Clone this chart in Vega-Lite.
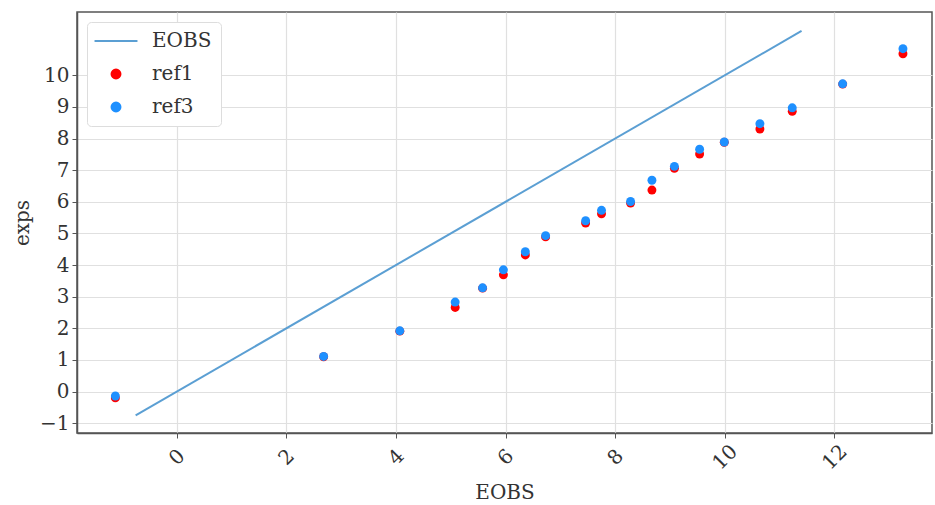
{
  "$schema": "https://vega.github.io/schema/vega-lite/v6.json",
  "width": 855,
  "height": 421,
  "autosize": "none",
  "padding": {"left": 77, "top": 12, "right": 3, "bottom": 72},
  "background": "white",
  "config": {
    "view": {"stroke": "#555", "strokeWidth": 1.5},
    "font": "DejaVu Serif",
    "axis": {
      "labelFont": "DejaVu Serif", "titleFont": "DejaVu Serif",
      "labelFontSize": 20, "titleFontSize": 20, "labelColor": "#333", "titleColor": "#333",
      "titleFontWeight": "normal",
      "gridColor": "#e0e0e0", "gridWidth": 1.2,
      "domainColor": "#555", "domainWidth": 1.5,
      "tickColor": "#555", "tickSize": 5
    },
    "legend": {
      "title": null, "orient": "none", "legendX": 10, "legendY": 10,
      "labelFont": "DejaVu Serif", "labelFontSize": 20, "labelColor": "#333",
      "fillColor": "white", "strokeColor": "#dddddd", "cornerRadius": 4,
      "padding": 9, "rowPadding": 13, "symbolOffset": 10, "labelOffset": 26,
      "symbolSize": 80, "symbolStrokeWidth": 2
    }
  },
  "data": {
    "values": [
      {"x": -0.75, "y": -0.75, "series": "EOBS"},
      {"x": 11.4, "y": 11.4, "series": "EOBS"},
      {"x": -1.12, "y": -0.2, "series": "ref1"},
      {"x": 2.68, "y": 1.1, "series": "ref1"},
      {"x": 4.07, "y": 1.91, "series": "ref1"},
      {"x": 5.08, "y": 2.66, "series": "ref1"},
      {"x": 5.58, "y": 3.27, "series": "ref1"},
      {"x": 5.96, "y": 3.69, "series": "ref1"},
      {"x": 6.36, "y": 4.32, "series": "ref1"},
      {"x": 6.73, "y": 4.89, "series": "ref1"},
      {"x": 7.46, "y": 5.33, "series": "ref1"},
      {"x": 7.75, "y": 5.62, "series": "ref1"},
      {"x": 8.28, "y": 5.96, "series": "ref1"},
      {"x": 8.67, "y": 6.37, "series": "ref1"},
      {"x": 9.08, "y": 7.06, "series": "ref1"},
      {"x": 9.54, "y": 7.51, "series": "ref1"},
      {"x": 9.99, "y": 7.88, "series": "ref1"},
      {"x": 10.64, "y": 8.3, "series": "ref1"},
      {"x": 11.23, "y": 8.86, "series": "ref1"},
      {"x": 12.15, "y": 9.72, "series": "ref1"},
      {"x": 13.25, "y": 10.68, "series": "ref1"},
      {"x": -1.12, "y": -0.14, "series": "ref3"},
      {"x": 2.68, "y": 1.11, "series": "ref3"},
      {"x": 4.07, "y": 1.92, "series": "ref3"},
      {"x": 5.08, "y": 2.83, "series": "ref3"},
      {"x": 5.58, "y": 3.28, "series": "ref3"},
      {"x": 5.96, "y": 3.85, "series": "ref3"},
      {"x": 6.36, "y": 4.42, "series": "ref3"},
      {"x": 6.73, "y": 4.93, "series": "ref3"},
      {"x": 7.46, "y": 5.4, "series": "ref3"},
      {"x": 7.75, "y": 5.73, "series": "ref3"},
      {"x": 8.28, "y": 6.01, "series": "ref3"},
      {"x": 8.67, "y": 6.68, "series": "ref3"},
      {"x": 9.08, "y": 7.12, "series": "ref3"},
      {"x": 9.54, "y": 7.66, "series": "ref3"},
      {"x": 9.99, "y": 7.89, "series": "ref3"},
      {"x": 10.64, "y": 8.47, "series": "ref3"},
      {"x": 11.23, "y": 8.97, "series": "ref3"},
      {"x": 12.15, "y": 9.73, "series": "ref3"},
      {"x": 13.25, "y": 10.84, "series": "ref3"}
    ]
  },
  "encoding": {
    "x": {
      "field": "x", "type": "quantitative",
      "scale": {"domain": [-1.82, 13.78], "nice": false, "zero": false},
      "axis": {
        "title": "EOBS", "values": [0, 2, 4, 6, 8, 10, 12],
        "labelAngle": -45, "labelAlign": "center", "labelBaseline": "middle",
        "labelPadding": 19, "titleY": 59, "titleBaseline": "middle"
      }
    },
    "y": {
      "field": "y", "type": "quantitative",
      "scale": {"domain": [-1.31, 12.0], "nice": false, "zero": false},
      "axis": {
        "title": "exps", "values": [-1, 0, 1, 2, 3, 4, 5, 6, 7, 8, 9, 10],
        "labelPadding": 3, "titleX": -55, "titleBaseline": "middle"
      }
    }
  },
  "layer": [
    {
      "transform": [{"filter": "datum.series === 'EOBS'"}],
      "mark": {"type": "line", "strokeWidth": 2},
      "encoding": {
        "color": {
          "field": "series", "type": "nominal",
          "scale": {"domain": ["EOBS", "ref1", "ref3"], "range": ["#5b9fd3", "#ff0000", "#1e90ff"]}
        }
      }
    },
    {
      "transform": [{"filter": "datum.series !== 'EOBS'"}],
      "mark": {"type": "point", "filled": true, "opacity": 1, "strokeWidth": 0, "size": 80},
      "encoding": {
        "color": {
          "field": "series", "type": "nominal",
          "scale": {"domain": ["EOBS", "ref1", "ref3"], "range": ["#5b9fd3", "#ff0000", "#1e90ff"]}
        },
        "shape": {
          "field": "series", "type": "nominal",
          "scale": {"domain": ["EOBS", "ref1", "ref3"], "range": ["M-4.8,0H4.8", "circle", "circle"]}
        }
      }
    }
  ]
}
